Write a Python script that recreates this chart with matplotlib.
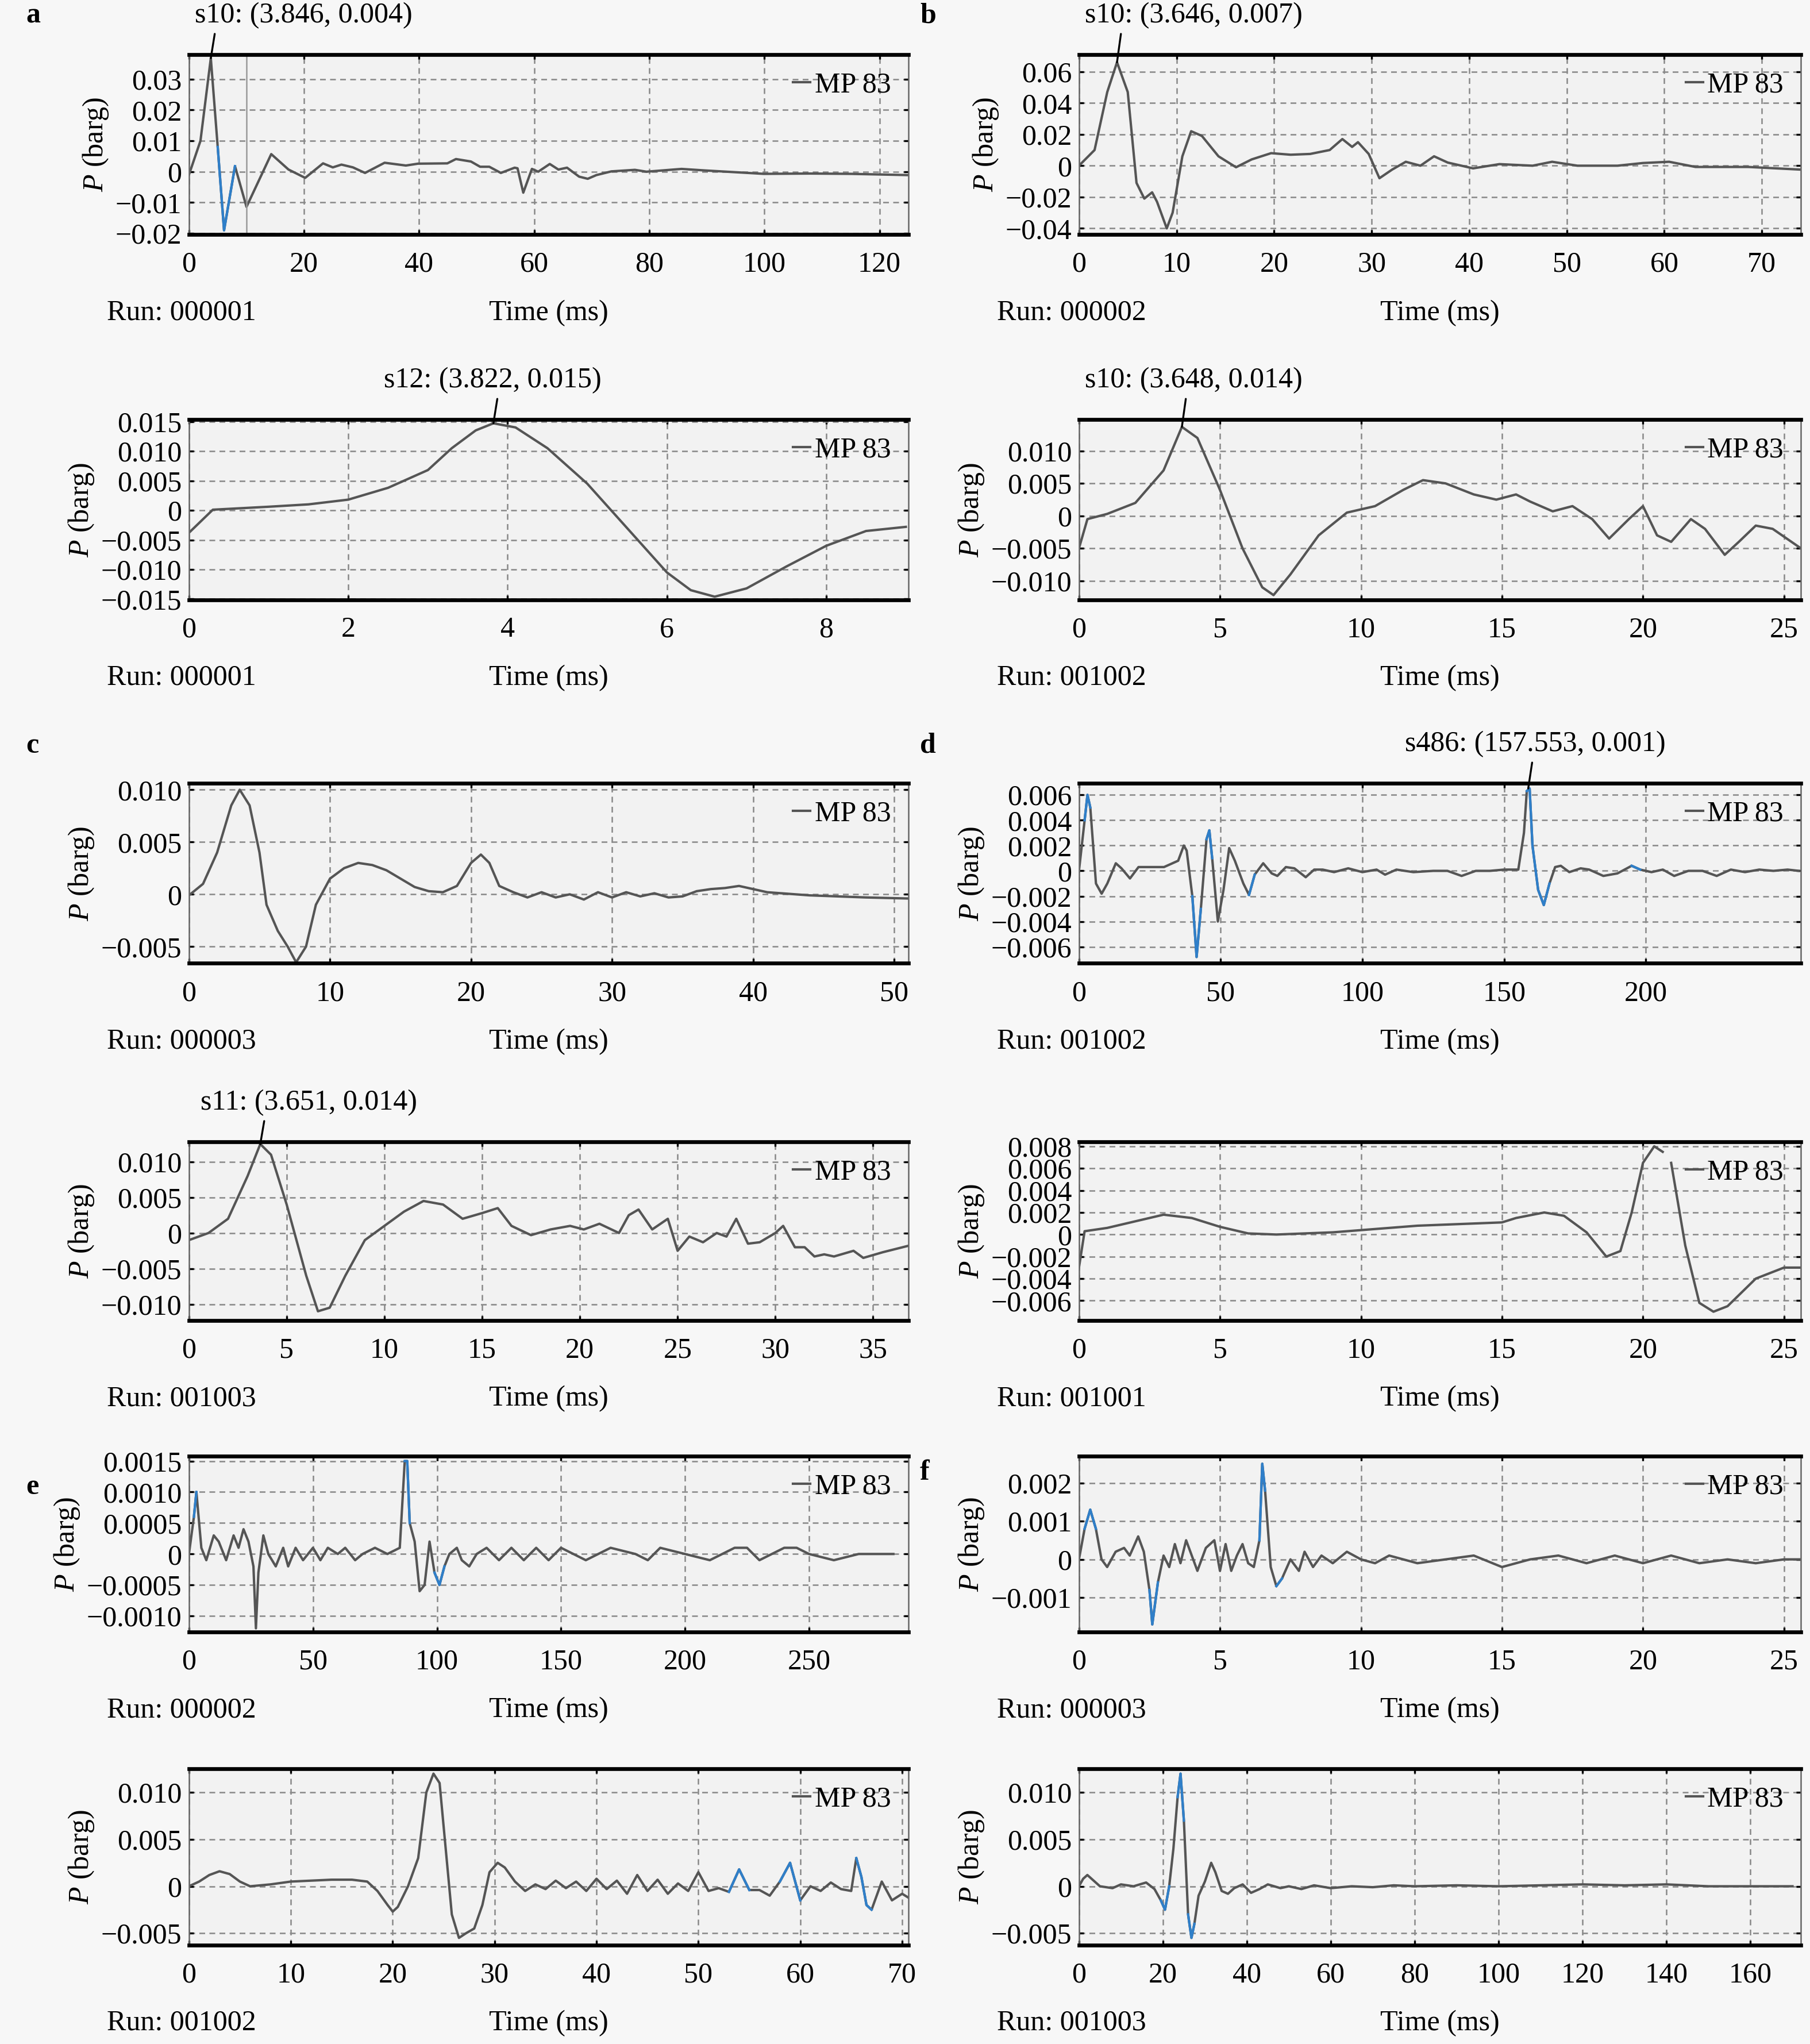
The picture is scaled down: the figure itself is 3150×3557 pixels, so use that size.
import numpy as np
import matplotlib.pyplot as plt

plt.rcParams['font.family'] = ['Liberation Serif', 'DejaVu Serif']
plt.rcParams['mathtext.fontset'] = 'custom'
plt.rcParams['mathtext.rm'] = 'Liberation Serif'
plt.rcParams['mathtext.it'] = 'Liberation Serif:italic'

# ---- data (t in ms, p in barg) ----
a1_t = [0, 2, 3.8, 5, 6.1, 8, 10, 14.3, 17.3, 20.2, 23.3, 25, 26.5, 28.5, 30.6, 34, 37.7, 39.8, 44.9, 46.4, 49,
        50.6, 52.2, 54.2, 56.6, 57.1, 58.1, 59.6, 60.7, 62.7, 64.2, 65.7, 67.8, 69.3, 70.8, 73.4, 77.5, 79.5,
        85.6, 89.7, 99.9, 108, 115, 125]
a1_p = [-0.001, 0.01, 0.0368, 0.008, -0.019, 0.0018, -0.0114, 0.0057, 0.0007, -0.002, 0.0027, 0.0014, 0.0023,
        0.0014, -0.0004, 0.0029, 0.002, 0.0026, 0.0027, 0.0041, 0.0033, 0.0016, 0.0016, -0.0004, 0.0013, 0.0011,
        -0.0068, 0.0009, 0.0, 0.0025, 0.0007, 0.0013, -0.0016, -0.0023, -0.0011, 0.0001, 0.0006, 0.0, 0.0009,
        0.0004, -0.0007, -0.0006, -0.0007, -0.0011]

b1_t = [0, 1.6, 2.9, 3.9, 5, 5.9, 6.7, 7.5, 8, 9, 9.6, 10.6, 11.5, 12.6, 14.3, 16.1, 17.7, 19.7, 21.7, 23.7, 25.7,
        27, 28, 28.6, 29.7, 30.8, 32.1, 33.5, 35, 36.4, 37.8, 40.4, 43.1, 46.5, 48.5, 51.1, 55.2, 57.8, 60.5,
        63.2, 68.6, 74]
b1_p = [0, 0.01, 0.047, 0.066, 0.047, -0.011, -0.021, -0.017, -0.023, -0.04, -0.03, 0.006, 0.022, 0.019, 0.006,
        -0.001, 0.004, 0.008, 0.007, 0.0075, 0.01, 0.017, 0.012, 0.015, 0.0075, -0.008, -0.0025, 0.0025, 0, 0.006,
        0.002, -0.0017, 0.001, 0, 0.0025, 0, 0, 0.0017, 0.0025, -0.0008, -0.0008, -0.0025]

a2_t = [0, 0.3, 1, 1.5, 2, 2.5, 3, 3.3, 3.6, 3.822, 4.1, 4.5, 5, 5.5, 6, 6.3, 6.6, 7, 7.5, 8, 8.5, 9]
a2_p = [-0.0038, 0.0001, 0.0006, 0.001, 0.0018, 0.0038, 0.0068, 0.0105, 0.0135, 0.0147, 0.0140, 0.0105, 0.0045,
        -0.003, -0.0105, -0.0135, -0.0146, -0.0132, -0.0095, -0.006, -0.0035, -0.0028]

b2_t = [0, 0.3, 1, 2, 3, 3.65, 4.2, 5, 5.8, 6.5, 6.9, 7.5, 8.5, 9.5, 10.5, 11.5, 12.2, 13, 14, 14.8, 15.5, 16,
        16.8, 17.5, 18.2, 18.8, 19.5, 20, 20.5, 21, 21.7, 22.2, 22.9, 23.4, 24, 24.6, 25.6]
b2_p = [-0.005, -0.0005, 0.0003, 0.002, 0.007, 0.0137, 0.012, 0.004, -0.005, -0.011, -0.0122, -0.009, -0.003,
        0.0005, 0.0015, 0.004, 0.0055, 0.005, 0.0033, 0.0025, 0.0033, 0.0022, 0.0007, 0.0015, -0.0005, -0.0035,
        -0.0005, 0.0015, -0.003, -0.004, -0.0005, -0.002, -0.006, -0.004, -0.0015, -0.002, -0.005]

c1_t = [0, 1, 2, 3, 3.6, 4.3, 5, 5.5, 6.3, 7, 7.6, 8.3, 9, 10, 11, 12, 13, 14, 15, 16, 17, 18, 19, 20, 20.7, 21.3,
        22, 23, 24, 25, 26, 27, 28, 29, 30, 31, 32, 33, 34, 35, 36, 37, 38, 39, 40, 41, 42, 44, 46, 48, 51]
c1_p = [-0.0001, 0.001, 0.004, 0.0085, 0.010, 0.0085, 0.004, -0.001, -0.0035, -0.005, -0.0065, -0.005, -0.001,
        0.0015, 0.0025, 0.003, 0.0028, 0.0023, 0.0015, 0.0007, 0.0003, 0.0002, 0.0008, 0.003, 0.0038, 0.003,
        0.0008, 0.0002, -0.0003, 0.0002, -0.0003, 0, -0.0005, 0.0002, -0.0003, 0.0002, -0.0002, 0.0001, -0.0003,
        -0.0002, 0.0003, 0.0005, 0.0006, 0.0008, 0.0005, 0.0002, 0.0001, -0.0001, -0.0002, -0.0003, -0.0004]

d1_t = [0, 2, 3, 4, 6, 8, 10, 13, 15, 18, 21, 25, 30, 35, 37, 38, 40, 41.5, 43, 45, 46, 47, 49, 51, 53, 55, 58, 60,
        62, 65, 68, 70, 73, 76, 80, 83, 86, 90, 95, 100, 105, 108, 112, 118, 125, 130, 135, 140, 145, 150, 155,
        157, 158, 159, 160, 162, 164, 166, 168, 170, 173, 177, 180, 185, 190, 195, 198, 202, 206, 210, 215, 220,
        225, 230, 235, 240, 245, 250, 254]
d1_p = [0, 0.004, 0.006, 0.005, -0.001, -0.0018, -0.001, 0.0006, 0.0002, -0.0006, 0.0003, 0.0003, 0.0003, 0.0008,
        0.002, 0.0016, -0.002, -0.0068, -0.003, 0.0025, 0.0032, 0.001, -0.004, -0.0015, 0.0018, 0.0008, -0.001,
        -0.0019, -0.0003, 0.0006, -0.0002, -0.0004, 0.0003, 0.0002, -0.0005, 0.0001, 0.0001, -0.0001, 0.0002,
        -0.0001, 0.0001, -0.0003, 0.0001, -0.0001, 0, 0, -0.0004, 0, 0, 0.0001, 0.0001, 0.003, 0.0063, 0.0065,
        0.002, -0.0015, -0.0027, -0.001, 0.0003, 0.0004, -0.0001, 0.0002, 0.0001, -0.0004, -0.0002, 0.0004,
        0.0001, -0.0001, 0.0001, -0.0004, 0, 0, -0.0004, 0.0001, -0.0001, 0.0001, 0, 0.0001, 0]

e1_t = [0, 1, 2, 3, 3.65, 4.2, 5, 6, 6.6, 7.2, 8, 9, 10, 11, 12, 13, 14, 15, 15.8, 16.5, 17.5, 18.5, 19.5, 20.2,
        21, 22, 22.5, 23, 23.7, 24.5, 25, 25.6, 26.3, 27, 27.5, 28, 28.6, 29.2, 30, 30.4, 31, 31.5, 32, 32.5, 33,
        34, 34.5, 35.5, 36.8]
e1_p = [-0.001, 0, 0.002, 0.008, 0.0125, 0.011, 0.004, -0.006, -0.011, -0.0105, -0.006, -0.001, 0.001, 0.003,
        0.0045, 0.004, 0.002, 0.0028, 0.0035, 0.001, -0.0003, 0.0005, 0.001, 0.0005, 0.0013, 0, 0.0025, 0.0033,
        0.0005, 0.002, -0.0025, -0.0005, -0.0013, 0, -0.0005, 0.002, -0.0015, -0.0013, 0, 0.001, -0.002, -0.002,
        -0.0033, -0.003, -0.0033, -0.0025, -0.0035, -0.0027, -0.0018]

e2_t = [0, 0.2, 1, 2, 3, 4, 5, 6, 7, 8, 9, 10, 11, 12, 13, 14, 15, 15.5, 16.5, 17.2, 18, 18.7, 19.2, 19.6, 20,
        20.4, 20.7, 20.8, 21, 21.5, 22, 22.5, 23, 24, 25, 25.6]
e2_p = [-0.003, 0.0003, 0.0006, 0.0012, 0.0018, 0.0015, 0.0007, 0.0001, 0, 0.0001, 0.0002, 0.0004, 0.0006,
        0.0008, 0.0009, 0.001, 0.0011, 0.0015, 0.002, 0.0017, 0.0002, -0.002, -0.0015, 0.002, 0.0065, 0.008,
        0.0075, np.nan, 0.0065, -0.001, -0.0062, -0.007, -0.0065, -0.004, -0.003, -0.003]

f1_t = [0, 2, 3, 5, 7, 10, 12, 15, 18, 20, 22, 24, 26, 27, 28, 30, 32, 35, 38, 40, 43, 46, 50, 53, 56, 60, 63, 67,
        70, 75, 80, 85, 87, 88, 89, 91, 93, 95, 97, 99, 101, 103, 105, 108, 110, 113, 116, 120, 125, 130, 135,
        140, 145, 150, 160, 170, 180, 185, 190, 200, 210, 220, 225, 230, 240, 245, 250, 260, 270, 284]
f1_p = [0, 0.0006, 0.001, 0.0001, -0.0001, 0.0003, 0.0002, -0.0001, 0.0003, 0.0001, 0.0004, 0.0002, -0.0002,
        -0.0012, -0.0003, 0.0003, 0, -0.0002, 0.0001, -0.0002, 0.0001, -0.0001, 0.0001, -0.0001, 0.0001, 0,
        0.0001, -0.0001, 0, 0.0001, 0, 0.0001, 0.0015, 0.0015, 0.0005, 0.0002, -0.0006, -0.0005, 0.0002,
        -0.0003, -0.0005, -0.0002, 0, 0.0001, -0.0001, -0.0002, 0, 0.0001, -0.0001, 0.0001, -0.0001, 0.0001,
        -0.0001, 0.0001, -0.0001, 0.0001, 0, -0.0001, 0.0001, 0, -0.0001, 0.0001, 0.0001, -0.0001, 0.0001,
        0.0001, 0, -0.0001, 0, 0]

f2_t = [0, 0.2, 0.4, 0.6, 0.8, 1, 1.3, 1.6, 1.8, 2.1, 2.3, 2.5, 2.6, 2.8, 3, 3.2, 3.4, 3.6, 3.8, 4, 4.2, 4.5, 4.8,
        5, 5.2, 5.4, 5.6, 5.8, 6, 6.2, 6.4, 6.5, 6.6, 6.8, 7, 7.2, 7.5, 7.8, 8, 8.3, 8.6, 9, 9.5, 10, 10.5, 11, 12,
        13, 14, 15, 16, 17, 18, 19, 20, 21, 22, 23, 24, 25, 25.6]
f2_p = [0, 0.0008, 0.0013, 0.0008, 0, -0.0002, 0.0002, 0.0003, 0.0001, 0.0006, 0.0002, -0.0008, -0.0017,
        -0.0006, 0.0001, -0.0002, 0.0004, -0.0001, 0.0005, 0.0001, -0.0003, 0.0003, 0.0005, -0.0003, 0.0004,
        -0.0003, 0.0001, 0.0004, -0.0001, -0.0002, 0.0005, 0.0025, 0.0018, -0.0002, -0.0007, -0.0005, 0, -0.0003,
        0.0002, -0.0002, 0.0001, -0.0001, 0.0002, 0, -0.0001, 0.0001, -0.0001, 0, 0.0001, -0.0002, 0, 0.0001,
        -0.0001, 0.0001, -0.0001, 0.0001, -0.0001, 0, -0.0001, 0, 0]

g1_t = [0, 1, 2, 3, 4, 5, 6, 8, 10, 12, 14, 16, 17.5, 18.5, 19.5, 20, 20.5, 21.5, 22.5, 23.3, 24, 24.6, 25.2,
        25.8, 26.5, 27.2, 28, 28.8, 29.5, 30.3, 31, 32, 33, 34, 35, 36, 37, 38, 39, 40, 41, 42, 43, 44, 45, 46,
        47, 48, 49, 50, 51, 52, 53, 54, 55, 56, 57, 58, 59, 60, 61, 62, 63, 64, 65, 65.5, 66, 66.5, 67, 68, 69,
        70, 70.6]
g1_p = [0, 0.0005, 0.0012, 0.0016, 0.0013, 0.0005, 0, 0.0002, 0.0005, 0.0006, 0.0007, 0.0007, 0.0005, -0.0005,
        -0.002, -0.0027, -0.0022, 0, 0.003, 0.01, 0.012, 0.011, 0.004, -0.003, -0.0055, -0.005, -0.0045, -0.002,
        0.0015, 0.0025, 0.002, 0.0005, -0.0005, 0.0002, -0.0003, 0.0006, -0.0002, 0.0005, -0.0005, 0.0008,
        -0.0003, 0.0006, -0.0008, 0.0012, -0.0005, 0.0007, -0.0008, 0.0003, -0.0005, 0.0015, -0.0005, -0.0002,
        -0.0006, 0.0018, -0.0004, -0.0004, -0.001, 0.0005, 0.0025, -0.0015, 0, -0.0005, 0.0004, -0.0003,
        -0.0005, 0.003, 0.001, -0.002, -0.0025, 0.0005, -0.0015, -0.0008, -0.0012]

g2_t = [0, 1, 2, 3, 5, 8, 10, 13, 16, 18, 19.5, 20.5, 21.5, 22.5, 23.5, 24.2, 25, 26, 26.8, 27.5, 28.5, 30, 31.5,
        32.5, 34, 35.5, 37, 39, 41, 43, 45, 48, 50, 53, 56, 60, 65, 70, 75, 80, 90, 100, 110, 120, 130, 140, 150,
        160, 170]
g2_p = [0, 0.0008, 0.0012, 0.0008, 0, -0.0002, 0.0002, 0, 0.0004, -0.0003, -0.0015, -0.0025, 0, 0.004, 0.0095,
        0.012, 0.007, -0.003, -0.0055, -0.004, -0.001, 0.0005, 0.0025, 0.0015, -0.0005, -0.0008, -0.0002, 0.0002,
        -0.0007, -0.0003, 0.0002, -0.0002, 0, -0.0003, 0.0001, -0.0002, 0, -0.0001, 0.0001, 0, 0.0001, 0, 0.0001,
        0.0002, 0.0001, 0.0002, 0, 0, 0]

# blue highlighted stretches (t ranges)
a1_blue = [(5, 8)]
d1_blue = [(2, 4), (40, 43), (45, 47), (60, 62), (158, 166), (195, 198)]
f1_blue = [(2, 3), (87, 89), (99, 103), (140, 141), (185, 186), (225, 226), (245, 246)]
f2_blue = [(0.2, 0.6), (2.5, 2.8), (6.4, 6.6), (7, 7.2)]
g1_blue = [(53, 55), (58, 60), (65.5, 67)]
g2_blue = [(19.5, 21.5), (23.5, 25), (26, 27.5)]

panels = [
    dict(t=a1_t, p=a1_p, blue=a1_blue, xlim=(0, 125), xt=range(0, 121, 20), ylim=(-0.0204, 0.0379),
         yt=[-0.02, -0.01, 0, 0.01, 0.02, 0.03], run='000001',
         note=('s10: (3.846, 0.004)', 3.8, 0.0368, 233), vline=10),
    dict(t=b1_t, p=b1_p, blue=[], xlim=(0, 74), xt=range(0, 71, 10), ylim=(-0.044, 0.0708),
         yt=[-0.04, -0.02, 0, 0.02, 0.04, 0.06], run='000002', note=('s10: (3.646, 0.007)', 3.9, 0.066, 916)),
    dict(t=a2_t, p=a2_p, blue=[], xlim=(0, 9.03), xt=range(0, 9, 2), ylim=(-0.0151, 0.0153),
         yt=[-0.015, -0.01, -0.005, 0, 0.005, 0.01, 0.015], run='000001', fmt='%.3f',
         note=('s12: (3.822, 0.015)', 3.822, 0.0147, 378)),
    dict(t=b2_t, p=b2_p, blue=[], xlim=(0, 25.6), xt=range(0, 26, 5), ylim=(-0.0129, 0.0148),
         yt=[-0.01, -0.005, 0, 0.005, 0.01], run='001002', fmt='%.3f',
         note=('s10: (3.648, 0.014)', 3.65, 0.0137, 916)),
    dict(t=c1_t, p=c1_p, blue=[], xlim=(0, 51), xt=range(0, 51, 10), ylim=(-0.0066, 0.0106),
         yt=[-0.005, 0, 0.005, 0.01], run='000003', fmt='%.3f'),
    dict(t=d1_t, p=d1_p, blue=d1_blue, xlim=(0, 254.7), xt=range(0, 201, 50), ylim=(-0.0073, 0.0069),
         yt=[-0.006, -0.004, -0.002, 0, 0.002, 0.004, 0.006], run='001002', fmt='%.3f',
         note=('s486: (157.553, 0.001)', 158.5, 0.0065, 1178)),
    dict(t=e1_t, p=e1_p, blue=[], xlim=(0, 36.8), xt=range(0, 36, 5), ylim=(-0.0123, 0.0128),
         yt=[-0.01, -0.005, 0, 0.005, 0.01], run='001003', fmt='%.3f',
         note=('s11: (3.651, 0.014)', 3.65, 0.0125, 237)),
    dict(t=e2_t, p=e2_p, blue=[], xlim=(0, 25.6), xt=range(0, 26, 5), ylim=(-0.0078, 0.0084),
         yt=[-0.006, -0.004, -0.002, 0, 0.002, 0.004, 0.006, 0.008], run='001001', fmt='%.3f'),
    dict(t=f1_t, p=f1_p, blue=f1_blue, xlim=(0, 290), xt=range(0, 251, 50), ylim=(-0.00126, 0.00158),
         yt=[-0.001, -0.0005, 0, 0.0005, 0.001, 0.0015], run='000002', fmt='%.4f'),
    dict(t=f2_t, p=f2_p, blue=f2_blue, xlim=(0, 25.6), xt=range(0, 26, 5), ylim=(-0.0019, 0.0027),
         yt=[-0.001, 0, 0.001, 0.002], run='000003', fmt='%.3f'),
    dict(t=g1_t, p=g1_p, blue=g1_blue, xlim=(0, 70.6), xt=range(0, 71, 10), ylim=(-0.00625, 0.0125),
         yt=[-0.005, 0, 0.005, 0.01], run='001002', fmt='%.3f'),
    dict(t=g2_t, p=g2_p, blue=g2_blue, xlim=(0, 172), xt=range(0, 161, 20), ylim=(-0.00625, 0.0125),
         yt=[-0.005, 0, 0.005, 0.01], run='001003', fmt='%.3f'),
]

W, H = 1389.0, 1568.0
cols = [(145, 697), (828, 1382)]
rows = [(42, 180), (322, 460), (601, 739), (876, 1013), (1117, 1252), (1357, 1492)]
letters = {0: ('a', 20, 12), 1: ('b', 706, 12), 4: ('c', 20, 572), 5: ('d', 706, 572),
           8: ('e', 20, 1141), 9: ('f', 706, 1130)}

bg = '#f7f7f7'
fig = plt.figure(figsize=(10.5, 3557 / 300), dpi=300, facecolor=bg)

for i, pn in enumerate(panels):
    (x0, x1), (y0, y1) = cols[i % 2], rows[i // 2]
    ax = fig.add_axes([x0 / W, 1 - y1 / H, (x1 - x0) / W, (y1 - y0) / H])
    ax.set_facecolor('#f2f2f2')
    t = np.array(pn['t'], float)
    p = np.array(pn['p'], float)
    ax.plot(t, p, color='#555555', lw=1.0, label='MP 83')
    for a, b in pn['blue']:
        m = (t >= a) & (t <= b)
        ax.plot(t[m], p[m], color='#2f7fc9', lw=1.0)
    if 'vline' in pn:
        ax.axvline(pn['vline'], color='#999999', lw=0.6)
    ax.set_xlim(*pn['xlim'])
    ax.set_ylim(*pn['ylim'])
    ax.set_xticks(list(pn['xt']))
    ax.set_yticks(pn['yt'])
    fmt = pn.get('fmt', '%.2f')
    ax.set_yticklabels(['0' if v == 0 else (fmt % v).replace('-', '\u2212') for v in pn['yt']])
    ax.grid(True, ls=(0, (4, 3)), color='#888888', lw=0.6)
    ax.tick_params(direction='in', length=2, labelsize=12, pad=7, top=True, right=True)
    ax.tick_params(axis='y', pad=3)
    for s in ['top', 'bottom']:
        ax.spines[s].set_linewidth(1.6)
    for s in ['left', 'right']:
        ax.spines[s].set_linewidth(0.6)
        ax.spines[s].set_color('#666666')
    ax.set_ylabel(r'$P$ (barg)', fontsize=12, labelpad=2)
    ax.legend(loc='upper right', frameon=False, fontsize=12, handlelength=0.6, handletextpad=0.15,
              borderaxespad=0.2)
    fig.text((x0 - 63) / W, 1 - (y1 + 60) / H, 'Run: ' + pn['run'], fontsize=12, va='center')
    fig.text((x0 + x1) / 2 / W, 1 - (y1 + 60) / H, 'Time (ms)', fontsize=12, va='center', ha='center')
    if 'note' in pn:
        txt, nt, npv, tx = pn['note']
        fig.text(tx / W, 1 - (y0 - 30) / H, txt, ha='center', va='center', fontsize=12)
        px, _ = fig.transFigure.inverted().transform(ax.transData.transform((nt, npv)))
        ax.annotate('', xy=(nt, npv), xytext=(px + 3 / W, 1 - (y0 - 16) / H), textcoords='figure fraction',
                    arrowprops=dict(arrowstyle='-', color='black', lw=0.8, shrinkA=0, shrinkB=0))
    if i in letters:
        l, lx, ly = letters[i]
        fig.text(lx / W, 1 - ly / H, l, fontsize=12, fontweight='bold', va='center')

fig.savefig('out.png', dpi=300, facecolor=bg)
